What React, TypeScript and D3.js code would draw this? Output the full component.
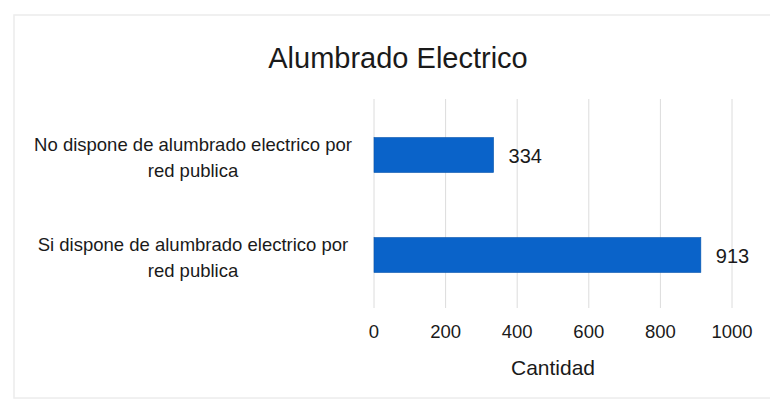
import React from "react";
import * as d3 from "d3";

const categories: string[][] = [
  ["No dispone de alumbrado electrico por", "red publica"],
  ["Si dispone de alumbrado electrico por", "red publica"],
];
const values: number[] = [334, 913];
const xTicks: number[] = [0, 200, 400, 600, 800, 1000];
const title = "Alumbrado Electrico";
const xTitle = "Cantidad";

const W = 770;
const H = 405;
const FONT = "'Liberation Sans', Arial, sans-serif";

export default function App() {
  const x = d3.scaleLinear().domain([0, 1000]).range([374, 732]);
  const keys = categories.map((_, i) => String(i));
  const y = d3
    .scaleBand<string>()
    .domain(keys)
    .range([105, 305])
    .paddingInner(0.65)
    .paddingOuter(0.325);
  const bw = y.bandwidth();

  return (
    <svg
      width={W}
      height={H}
      style={{ position: "absolute", left: 0, top: 0, background: "#fff" }}
      fontFamily={FONT}
    >
      <rect x={0} y={0} width={W} height={H} fill="#fff" />
      <rect x={14} y={15} width={760} height={383} fill="none" stroke="#ececec" strokeWidth={1.5} />
      <text x={398} y={68} textAnchor="middle" fontSize={29} fill="#1a1a1a">
        {title}
      </text>
      {xTicks.map((t) => (
        <line key={"g" + t} x1={x(t)} x2={x(t)} y1={99} y2={308} stroke="#dcdcdc" strokeWidth={1} />
      ))}
      {values.map((v, i) => {
        const yy = y(String(i))!;
        return (
          <g key={"b" + i}>
            <rect x={x(0)} y={yy} width={x(v) - x(0)} height={bw} fill="#0a63c9" stroke="#0756ad" strokeWidth={0.6} />
            <text
              x={x(v) + 15}
              y={yy + bw / 2 + 8}
              fontSize={20}
              fill="#1a1a1a"
            >
              {v}
            </text>
          </g>
        );
      })}
      {categories.map((lines, i) => {
        const c = y(String(i))! + bw / 2;
        return (
          <text key={"c" + i} textAnchor="middle" fontSize={18.5} fill="#1a1a1a">
            {lines.map((l, j) => (
              <tspan key={j} x={193} y={c - 4 + j * 26}>
                {l}
              </tspan>
            ))}
          </text>
        );
      })}
      {xTicks.map((t) => (
        <text key={"t" + t} x={x(t)} y={338} textAnchor="middle" fontSize={18.5} fill="#1a1a1a">
          {t}
        </text>
      ))}
      <text x={(x(0) + x(1000)) / 2} y={375} textAnchor="middle" fontSize={21} fill="#1a1a1a">
        {xTitle}
      </text>
    </svg>
  );
}
